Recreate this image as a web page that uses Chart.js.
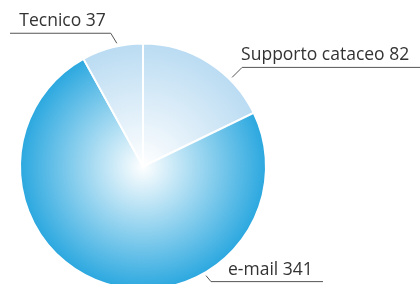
<!DOCTYPE html>
<html>
<head>
<meta charset="utf-8">
<script src="https://cdn.jsdelivr.net/npm/chart.js@4"></script>
<style>
  html, body { margin: 0; padding: 0; background: #fff; overflow: hidden; }
  canvas { display: block; }
</style>
</head>
<body>
<canvas id="pieChart" width="420" height="300"></canvas>
<script>
// Chart data
var categories = ['Supporto cataceo', 'e-mail', 'Tecnico'];
var values = [82, 341, 37];

// Slice colours (edge colour, gradient goes to white in the middle)
var edgeColors = ['#b9dbf2', '#29a7df', '#b9dbf2'];

// Where each label sits: angle of the leader tip (deg, clockwise from top),
// elbow offset from the tip, underline end x and text placement
var labelLayout = [
    { angle: 45, elbow: [10, -10], lineTo: 420, align: 'left', textDx: -1 },
    { angle: 150, elbow: [5, 6], lineTo: 323, align: 'left', textDx: 17 },
    { angle: -12, elbow: [-6, -10], lineTo: 10, align: 'right', textDx: -5 }
];

function sliceGradient(context) {
    var chart = context.chart;
    var area = chart.chartArea;
    var edge = edgeColors[context.dataIndex];
    if (!area) return edge;
    var cx = (area.left + area.right) / 2;
    var cy = (area.top + area.bottom) / 2;
    var r = Math.min(area.right - area.left, area.bottom - area.top) / 2;
    var g = chart.ctx.createRadialGradient(cx, cy, 0, cx, cy, r);
    g.addColorStop(0, '#ffffff');
    g.addColorStop(1, edge);
    return g;
}

// Draw labels with underline + leader line
var leaderLabels = {
    id: 'leaderLabels',
    afterDraw: function(chart) {
        var ctx = chart.ctx;
        var meta = chart.getDatasetMeta(0);
        ctx.save();
        ctx.font = '17.5px "Open Sans", sans-serif';
        ctx.fillStyle = '#333333';
        ctx.strokeStyle = '#555555';
        ctx.lineWidth = 1;
        meta.data.forEach(function(arc, i) {
            var lay = labelLayout[i];
            var a = lay.angle * Math.PI / 180;
            var rr = arc.outerRadius + 3;
            var tx = arc.x + Math.sin(a) * rr;
            var ty = arc.y - Math.cos(a) * rr;
            var ex = tx + lay.elbow[0];
            var ey = ty + lay.elbow[1];
            ctx.beginPath();
            ctx.moveTo(tx, ty);
            ctx.lineTo(ex, ey);
            ctx.lineTo(lay.lineTo, ey);
            ctx.stroke();
            ctx.textAlign = lay.align;
            ctx.textBaseline = 'alphabetic';
            ctx.fillText(categories[i] + ' ' + values[i], ex + lay.textDx, ey - 7);
        });
        ctx.restore();
    }
};

new Chart(document.getElementById('pieChart'), {
    type: 'pie',
    data: {
        labels: categories,
        datasets: [{
            data: values,
            backgroundColor: sliceGradient,
            borderColor: '#ffffff',
            borderWidth: 2
        }]
    },
    options: {
        responsive: false,
        animation: false,
        devicePixelRatio: 1,
        layout: {
            padding: { left: 19, top: 42, right: 153, bottom: 9 }
        },
        plugins: {
            legend: { display: false },
            tooltip: { enabled: false }
        }
    },
    plugins: [leaderLabels]
});
</script>
</body>
</html>
